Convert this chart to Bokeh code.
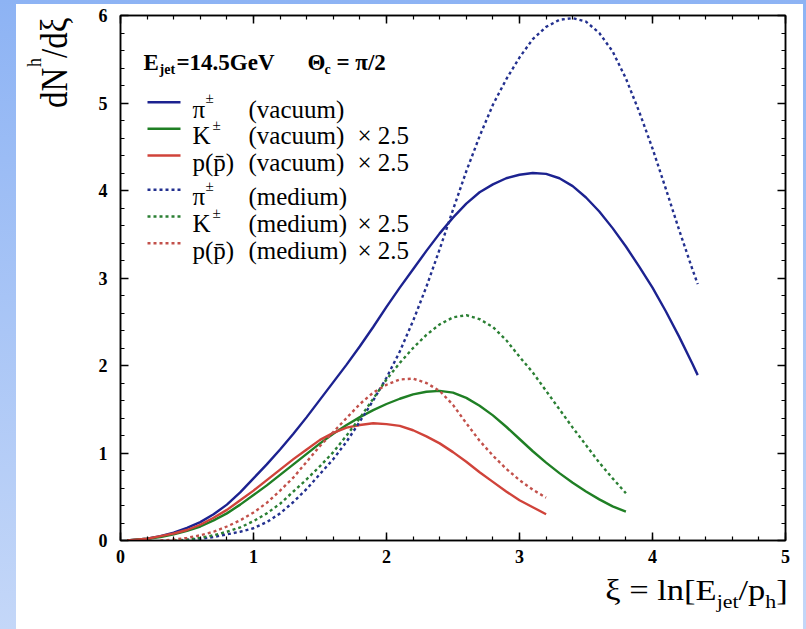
from bokeh.plotting import figure
from bokeh.models import Label, FixedTicker, LinearAxis, Range1d, Div
from bokeh.layouts import column, row
from bokeh.embed import file_html
from bokeh.resources import INLINE

# ---------------- data ----------------
XI_PI_VAC = [0.05, 0.2, 0.3, 0.4, 0.5, 0.6, 0.7, 0.8, 0.9, 1.0, 1.1, 1.2, 1.3, 1.4, 1.5, 1.6, 1.7, 1.8, 1.9, 2.0,
             2.1, 2.2, 2.3, 2.4, 2.5, 2.6, 2.7, 2.8, 2.9, 3.0, 3.1, 3.2, 3.3, 3.4, 3.5, 3.6, 3.7, 3.8, 3.9, 4.0,
             4.1, 4.2, 4.3, 4.34]
DN_PI_VAC = [0.0, 0.02, 0.05, 0.09, 0.145, 0.21, 0.30, 0.41, 0.55, 0.71, 0.87, 1.04, 1.22, 1.41, 1.61, 1.81, 2.01,
             2.22, 2.44, 2.67, 2.89, 3.10, 3.31, 3.51, 3.69, 3.85, 3.98, 4.07, 4.14, 4.18, 4.20, 4.19, 4.14, 4.05,
             3.92, 3.76, 3.57, 3.36, 3.13, 2.89, 2.62, 2.33, 2.02, 1.89]

XI_PI_MED = [0.45, 0.6, 0.7, 0.8, 0.9, 1.0, 1.1, 1.2, 1.3, 1.4, 1.5, 1.6, 1.7, 1.8, 1.9, 2.0, 2.1, 2.2, 2.3, 2.4,
             2.5, 2.6, 2.7, 2.8, 2.9, 3.0, 3.1, 3.2, 3.3, 3.4, 3.5, 3.6, 3.7, 3.8, 3.9, 4.0, 4.1, 4.2, 4.3, 4.34]
DN_PI_MED = [0.0, 0.02, 0.04, 0.07, 0.10, 0.14, 0.21, 0.31, 0.44, 0.59, 0.76, 0.93, 1.13, 1.36, 1.60, 1.86, 2.16,
             2.51, 2.90, 3.33, 3.78, 4.22, 4.62, 4.98, 5.27, 5.52, 5.73, 5.87, 5.95, 5.97, 5.93, 5.80, 5.59, 5.28,
             4.90, 4.48, 4.02, 3.55, 3.10, 2.93]

XI_K_VAC = [0.05, 0.2, 0.3, 0.4, 0.5, 0.6, 0.7, 0.8, 0.9, 1.0, 1.1, 1.2, 1.3, 1.4, 1.5, 1.6, 1.7, 1.8, 1.9, 2.0,
            2.1, 2.2, 2.3, 2.4, 2.5, 2.6, 2.7, 2.8, 2.9, 3.0, 3.1, 3.2, 3.3, 3.4, 3.5, 3.6, 3.7, 3.8]
DN_K_VAC = [0.0, 0.02, 0.04, 0.07, 0.11, 0.16, 0.23, 0.31, 0.41, 0.52, 0.63, 0.75, 0.87, 0.99, 1.11, 1.22, 1.32,
            1.41, 1.49, 1.56, 1.62, 1.67, 1.70, 1.71, 1.69, 1.63, 1.54, 1.43, 1.30, 1.16, 1.02, 0.89, 0.77, 0.66,
            0.56, 0.47, 0.39, 0.33]

XI_K_MED = [0.4, 0.5, 0.6, 0.7, 0.8, 0.9, 1.0, 1.1, 1.2, 1.3, 1.4, 1.5, 1.6, 1.7, 1.8, 1.9, 2.0, 2.1, 2.2, 2.3,
            2.4, 2.5, 2.6, 2.7, 2.8, 2.9, 3.0, 3.1, 3.2, 3.3, 3.4, 3.5, 3.6, 3.7, 3.8]
DN_K_MED = [0.0, 0.01, 0.03, 0.06, 0.10, 0.15, 0.22, 0.31, 0.42, 0.56, 0.70, 0.85, 1.01, 1.20, 1.40, 1.62, 1.84,
            2.03, 2.20, 2.35, 2.47, 2.55, 2.575, 2.53, 2.44, 2.29, 2.10, 1.92, 1.71, 1.50, 1.29, 1.09, 0.89, 0.71,
            0.54]

XI_P_VAC = [0.05, 0.2, 0.3, 0.4, 0.5, 0.6, 0.7, 0.8, 0.9, 1.0, 1.1, 1.2, 1.3, 1.4, 1.5, 1.6, 1.7, 1.8, 1.9, 2.0,
            2.1, 2.2, 2.3, 2.4, 2.5, 2.6, 2.7, 2.8, 2.9, 3.0, 3.1, 3.2]
DN_P_VAC = [0.0, 0.02, 0.05, 0.08, 0.12, 0.18, 0.26, 0.35, 0.46, 0.57, 0.69, 0.81, 0.93, 1.04, 1.15, 1.23, 1.29,
            1.32, 1.34, 1.33, 1.31, 1.26, 1.19, 1.11, 1.01, 0.90, 0.78, 0.67, 0.56, 0.46, 0.38, 0.30]

XI_P_MED = [0.3, 0.4, 0.5, 0.6, 0.7, 0.8, 0.9, 1.0, 1.1, 1.2, 1.3, 1.4, 1.5, 1.6, 1.7, 1.8, 1.9, 2.0, 2.1, 2.2,
            2.3, 2.4, 2.5, 2.6, 2.7, 2.8, 2.9, 3.0, 3.1, 3.2]
DN_P_MED = [0.0, 0.01, 0.03, 0.06, 0.10, 0.16, 0.23, 0.32, 0.43, 0.57, 0.72, 0.90, 1.08, 1.24, 1.40, 1.56, 1.69,
            1.78, 1.84, 1.85, 1.80, 1.71, 1.55, 1.34, 1.14, 0.97, 0.82, 0.69, 0.58, 0.49]

X_TICKS = [0, 1, 2, 3, 4, 5]
X_TICK_LABELS = ["0", "1", "2", "3", "4", "5"]
Y_TICKS = [0, 1, 2, 3, 4, 5, 6]
Y_TICK_LABELS = ["0", "1", "2", "3", "4", "5", "6"]

LEGEND_SYMBOLS = ["π", "K", "p(p̄)", "π", "K", "p(p̄)"]
LEGEND_SUPS = ["±", "±", "", "±", "±", ""]
LEGEND_STATES = ["(vacuum)", "(vacuum)", "(vacuum)", "(medium)", "(medium)", "(medium)"]
LEGEND_SCALES = ["", "× 2.5", "× 2.5", "", "× 2.5", "× 2.5"]

Y_LABEL_PARTS = ["dN", "h", "/dξ"]
X_LABEL_HTML = ("ξ = ln[E<sub style=\"font-size:19px;vertical-align:-8px;line-height:0;\">jet</sub>/p"
                "<sub style=\"font-size:19px;vertical-align:-8px;line-height:0;\">h</sub>]")

# ---------------- styling / layout ----------------
BLUE = "#1c2290"
GREEN = "#1f7f24"
RED = "#d0433a"
BLUE_D = "#23308f"
GREEN_D = "#2a7f33"
RED_D = "#c2504a"
FONT = "Liberation Serif"

OFF_X, OFF_Y = 16, 4          # white panel origin on the page
PANEL_W, PANEL_H = 787, 625
YDIV_W = 64
FIG_W = PANEL_W - YDIV_W
FIG_H = 574
XDIV_H = PANEL_H - FIG_H
ML, MR, MT = 40, 18, 11
FRAME_W = FIG_W - ML - MR
FRAME_H = 525
MB = FIG_H - MT - FRAME_H
FIG_LEFT_PAGE = OFF_X + YDIV_W
FRAME_LEFT_PAGE = FIG_LEFT_PAGE + ML
FRAME_BOTTOM_PAGE = OFF_Y + MT + FRAME_H
XMIN, XMAX, YMIN, YMAX = 0, 5, 0, 6


def dx(px):
    return XMIN + (px - FRAME_LEFT_PAGE) / FRAME_W * (XMAX - XMIN)


def dy(py):
    return YMIN + (FRAME_BOTTOM_PAGE - py) / FRAME_H * (YMAX - YMIN)


p = figure(width=FIG_W, height=FIG_H, x_range=Range1d(XMIN, XMAX), y_range=Range1d(YMIN, YMAX),
           output_backend="svg", toolbar_location=None,
           min_border_left=ML, min_border_right=MR, min_border_top=MT, min_border_bottom=MB,
           background_fill_color="white", border_fill_color="white",
           outline_line_color="black", outline_line_width=1.5, margin=(0, 0, 0, 0))
p.xgrid.visible = False
p.ygrid.visible = False

xt = FixedTicker(ticks=X_TICKS, minor_ticks=[round(0.2 * i, 1) for i in range(26)])
yt = FixedTicker(ticks=Y_TICKS, minor_ticks=[round(0.2 * i, 1) for i in range(31)])


def style_axis(ax, ticker, labels):
    ax.ticker = ticker
    ax.axis_line_width = 1.5
    ax.axis_line_color = "black"
    ax.major_tick_in = 8
    ax.major_tick_out = 0
    ax.minor_tick_in = 4
    ax.minor_tick_out = 0
    ax.major_tick_line_width = 1.5
    ax.minor_tick_line_width = 1.2
    ax.major_tick_line_color = "black"
    ax.minor_tick_line_color = "black"
    ax.major_label_text_font = FONT
    ax.major_label_text_font_style = "bold"
    ax.major_label_text_font_size = "18px"
    ax.major_label_text_color = "black"
    ax.major_label_overrides = labels


style_axis(p.xaxis[0], xt, {t: s for t, s in zip(X_TICKS, X_TICK_LABELS)})
p.xaxis[0].major_label_standoff = 9
style_axis(p.yaxis[0], yt, {t: s for t, s in zip(Y_TICKS, Y_TICK_LABELS)})
p.yaxis[0].major_label_standoff = 13

top_ax = LinearAxis()
style_axis(top_ax, xt, {t: "" for t in X_TICKS})
top_ax.major_label_standoff = 0
p.add_layout(top_ax, "above")
right_ax = LinearAxis()
style_axis(right_ax, yt, {t: "" for t in Y_TICKS})
right_ax.major_label_standoff = 0
p.add_layout(right_ax, "right")

# ---------------- curves ----------------
LW = 2.4
DASH = "3 3"
p.line(XI_PI_VAC, DN_PI_VAC, line_color=BLUE, line_width=LW)
p.line(XI_K_VAC, DN_K_VAC, line_color=GREEN, line_width=LW)
p.line(XI_P_VAC, DN_P_VAC, line_color=RED, line_width=LW)
p.line(XI_PI_MED, DN_PI_MED, line_color=BLUE_D, line_width=LW, line_dash=DASH)
p.line(XI_K_MED, DN_K_MED, line_color=GREEN_D, line_width=LW, line_dash=DASH)
p.line(XI_P_MED, DN_P_MED, line_color=RED_D, line_width=LW, line_dash=DASH)


# ---------------- texts inside the frame ----------------
def txt(px, py, text, size, bold=False):
    kw = dict(text_font_style="bold") if bold else {}
    p.add_layout(Label(x=dx(px), y=dy(py), x_units="data", y_units="data", text=text,
                       text_font=FONT, text_font_size=f"{size}px", text_align="left",
                       text_baseline="alphabetic", text_color="black", **kw))


# header
txt(143, 62, "E", 23, True)
txt(159, 69, "jet", 14, True)
txt(176, 62, "=14.5GeV", 23, True)
txt(307, 62, "Θ", 23, True)
txt(324, 69, "c", 14, True)
txt(336, 62, "= π/2", 23, True)

# legend
ROW_Y = [101.7, 128.3, 155.0, 189.3, 216.0, 242.7]
KEY_COLORS = [BLUE, GREEN, RED, BLUE_D, GREEN_D, RED_D]
SUP_X = [205, 212, 0, 205, 212, 0]
for i in range(6):
    ly = ROW_Y[i]
    base = ly + 7
    kw = dict(line_color=KEY_COLORS[i], line_width=LW)
    if i >= 3:
        kw["line_dash"] = DASH
    p.line([dx(147), dx(180)], [dy(ly), dy(ly)], **kw)
    txt(192, base, LEGEND_SYMBOLS[i], 25)
    if LEGEND_SUPS[i]:
        txt(SUP_X[i], base - 11, LEGEND_SUPS[i], 15)
    txt(248, base, LEGEND_STATES[i], 25)
    if LEGEND_SCALES[i]:
        txt(357, base, LEGEND_SCALES[i], 25)

# ---------------- axis titles (outside the frame, as HTML) ----------------
STRETCH = 1.18


def rot_piece(text, size, base_x_page, start_y_page):
    b = 0.8375 * size * STRETCH
    left = base_x_page - OFF_X - b
    top = start_y_page - OFF_Y
    return ("<div style=\"position:absolute;left:%.1fpx;top:%.1fpx;transform-origin:0 0;"
            "transform:rotate(-90deg) scaleY(%.2f);font-family:'Liberation Serif';font-size:%dpx;"
            "line-height:%dpx;white-space:nowrap;color:black;\">%s</div>") % (left, top, STRETCH, size, size, text)


y_html = ("<div style=\"position:relative;width:%dpx;height:%dpx;\">" % (YDIV_W, FIG_H)
          + rot_piece(Y_LABEL_PARTS[0], 33, 68, 108)
          + rot_piece(Y_LABEL_PARTS[1], 18, 41, 67)
          + rot_piece(Y_LABEL_PARTS[2], 33, 68, 58)
          + "</div>")
ydiv = Div(text=y_html, width=YDIV_W, height=FIG_H, margin=(0, 0, 0, 0),
           styles={"background-color": "white"})

X_RIGHT = OFF_X + PANEL_W - 788
X_TOP = 600 - (OFF_Y + FIG_H) - 22
xdiv = Div(
    text=("<div style=\"position:relative;width:%dpx;height:%dpx;\">"
          "<div style=\"position:absolute;right:%dpx;top:%dpx;transform-origin:100%% 0;transform:scaleX(1.15);"
          "font-family:'Liberation Serif';font-size:30px;line-height:24px;white-space:nowrap;color:black;\">"
          "%s</div></div>") % (PANEL_W, XDIV_H, X_RIGHT, X_TOP, X_LABEL_HTML),
    width=PANEL_W, height=XDIV_H, margin=(0, 0, 0, 0), styles={"background-color": "white"})

inner = column(row(ydiv, p, spacing=0), xdiv, spacing=0,
               margin=(OFF_Y, 806 - OFF_X - PANEL_W, 0, OFF_X), styles={"background-color": "white"})
layout = column(inner, width=806, height=629,
                styles={"background": "linear-gradient(to bottom, #8db3f4 0%, #c4d7f8 100%)"})

open("out.html", "w", encoding="utf-8").write(file_html(layout, INLINE))
